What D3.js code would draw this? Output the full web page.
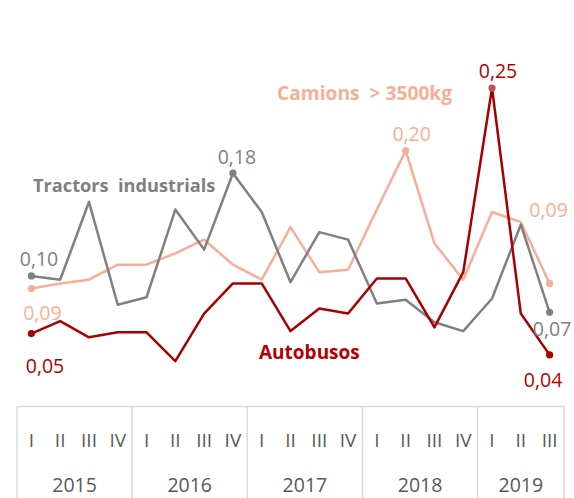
<!DOCTYPE html>
<html><head><meta charset="utf-8">
<script src="https://cdn.jsdelivr.net/npm/d3@7"></script>
<style>
html,body{margin:0;padding:0;background:#fff;}
svg{display:block;font-family:"Open Sans",sans-serif;}
</style>
</head><body>
<svg id="c" width="574" height="498"></svg>
<script>
const years = ["2015", "2016", "2017", "2018", "2019"];
const quarters = ["I","II","III","IV","I","II","III","IV","I","II","III","IV","I","II","III","IV","I","II","III"];
const quarterYear = [0,0,0,0,1,1,1,1,2,2,2,2,3,3,3,3,4,4,4];
const tractors  = [0.099, 0.096, 0.158, 0.076, 0.082, 0.152, 0.120, 0.181, 0.150, 0.094, 0.134, 0.128, 0.077, 0.080, 0.062, 0.055, 0.081, 0.140, 0.070];
const camions   = [0.089, 0.093, 0.096, 0.108, 0.108, 0.117, 0.128, 0.108, 0.096, 0.138, 0.102, 0.104, 0.152, 0.199, 0.125, 0.096, 0.150, 0.142, 0.093];
const autobusos = [0.053, 0.063, 0.050, 0.054, 0.054, 0.031, 0.069, 0.093, 0.093, 0.055, 0.073, 0.069, 0.097, 0.097, 0.058, 0.102, 0.249, 0.069, 0.036];
const seriesNames = ["Tractors  industrials", "Camions  > 3500kg", "Autobusos"];

const svg = d3.select("#c");
const x = d3.scaleBand().domain(d3.range(quarters.length)).range([17, 564]).padding(0);
const cx = i => x(i) + x.bandwidth() / 2;
const y = d3.scaleLinear().domain([0, 0.3]).range([400, 24.1]);
const fmt = v => d3.format(".2f")(v).replace(".", ",");

const series = [
  {name: seriesNames[1], values: camions,   line: "#f8ae96", text: "#f8ae96", label: [277, 100], fs: 19.2, marks: [[0, 11, 31.5], [13, 6, -10], [18, -1, -66]]},
  {name: seriesNames[0], values: tractors,  line: "#808080", text: "#7f7f7f", label: [33, 192],  fs: 18.2, marks: [[0, 7.6, -10], [7, 4, -9], [18, 2.5, 24]]},
  {name: seriesNames[2], values: autobusos, line: "#a80000", text: "#b00000", label: [259, 359], fs: 19,   marks: [[0, 13.6, 39], [16, 6, -10], [18, -6.5, 32]]}
];

// category axis box
const axTop = 406.5;
const box = svg.append("g").attr("stroke", "#d9d9d9").attr("stroke-width", 1.5).attr("fill", "none");
box.append("line").attr("x1", x.range()[0]).attr("x2", x.range()[1]).attr("y1", axTop).attr("y2", axTop);
const bounds = [0, 4, 8, 12, 16].map(i => x(i)).concat([x.range()[1]]);
bounds.forEach(bx => box.append("line").attr("x1", bx).attr("x2", bx).attr("y1", axTop).attr("y2", 498));

const axis = d3.axisBottom(x).tickSize(0).tickPadding(26.7).tickFormat(i => quarters[i]);
const ag = svg.append("g").attr("transform", `translate(0,${axTop})`).call(axis);
ag.select(".domain").remove();
ag.selectAll("text").attr("fill", "#595959").style("font-size", "19px").style("font-family", '"Open Sans",sans-serif');

years.forEach((yr, k) => {
  const idx = d3.range(quarters.length).filter(i => quarterYear[i] === k);
  const mid = (x(idx[0]) + x(idx[idx.length - 1]) + x.bandwidth()) / 2;
  svg.append("text").attr("x", mid).attr("y", 492).attr("text-anchor", "middle")
    .attr("fill", "#595959").style("font-size", "19.5px").text(yr);
});

// lines
const line = d3.line().x((d, i) => cx(i)).y(d => y(d));
series.forEach(s => {
  svg.append("path").datum(s.values).attr("d", line).attr("fill", "none")
    .attr("stroke", s.line).attr("stroke-width", 2.5).attr("stroke-linejoin", "round");
});
series.forEach(s => {
  s.marks.forEach(([i, dx, dy]) => {
    svg.append("circle").attr("cx", cx(i)).attr("cy", y(s.values[i])).attr("r", 3.6)
      .attr("fill", (s.values === autobusos && i === 16) ? "#c0504d" : s.line);
    svg.append("text").attr("x", cx(i) + dx).attr("y", y(s.values[i]) + dy)
      .attr("text-anchor", "middle").attr("fill", s.text).style("font-size", "19.5px")
      .text(fmt(s.values[i]));
  });
  svg.append("text").attr("x", s.label[0]).attr("y", s.label[1]).attr("fill", s.text)
    .style("font-size", s.fs + "px").style("font-weight", "bold").style("white-space", "pre")
    .attr("xml:space", "preserve").text(s.name);
});
</script>
</body></html>
